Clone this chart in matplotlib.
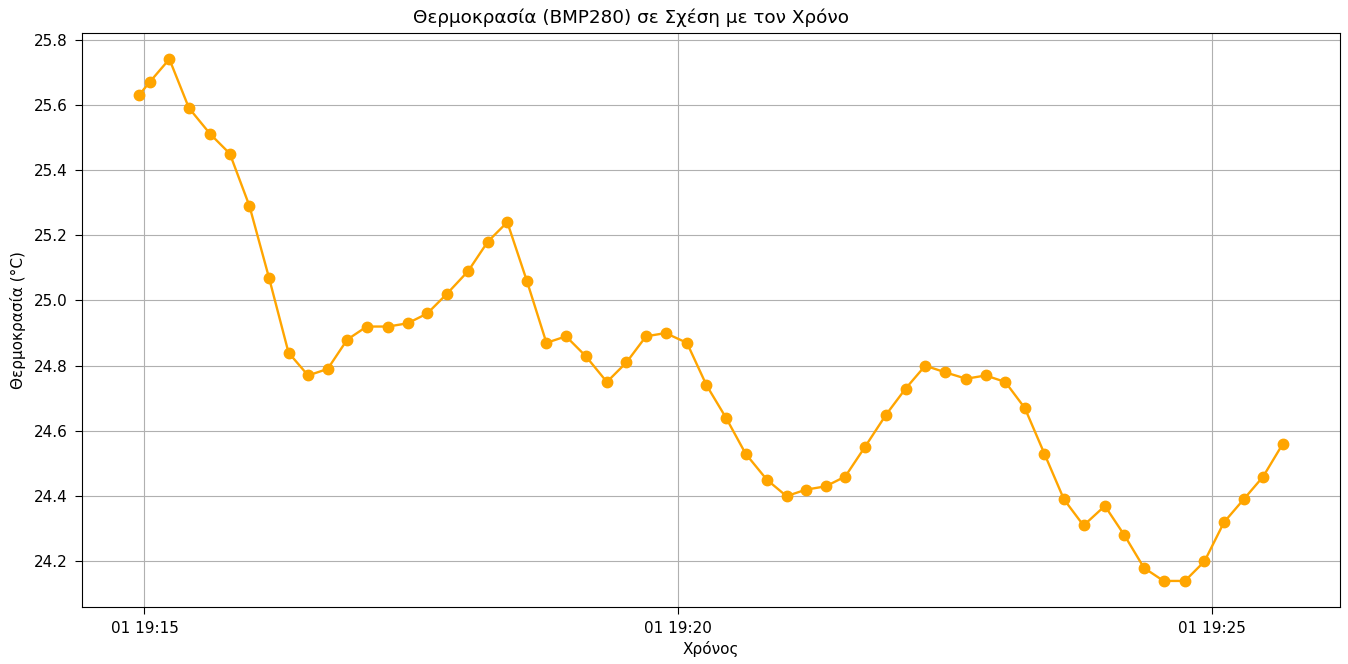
import matplotlib
matplotlib.use("Agg")
import matplotlib.pyplot as plt
import matplotlib.dates as mdates
import pandas as pd

times = [
    "19:14:57", "19:15:03", "19:15:14", "19:15:25", "19:15:37", "19:15:48", "19:15:59",
    "19:16:10", "19:16:21", "19:16:32", "19:16:43", "19:16:54", "19:17:05", "19:17:17",
    "19:17:28", "19:17:39", "19:17:50", "19:18:02", "19:18:13", "19:18:24", "19:18:35",
    "19:18:46", "19:18:57", "19:19:08", "19:19:20", "19:19:31", "19:19:42", "19:19:53",
    "19:20:05", "19:20:16", "19:20:27", "19:20:38", "19:20:50", "19:21:01", "19:21:12",
    "19:21:23", "19:21:34", "19:21:45", "19:21:57", "19:22:08", "19:22:19", "19:22:30",
    "19:22:42", "19:22:53", "19:23:04", "19:23:15", "19:23:26", "19:23:37", "19:23:48",
    "19:24:00", "19:24:11", "19:24:22", "19:24:33", "19:24:45", "19:24:56", "19:25:07",
    "19:25:18", "19:25:29", "19:25:40",
]
temperature = [
    25.63, 25.67, 25.74, 25.59, 25.51, 25.45, 25.29,
    25.07, 24.84, 24.77, 24.79, 24.88, 24.92, 24.92,
    24.93, 24.96, 25.02, 25.09, 25.18, 25.24, 25.06,
    24.87, 24.89, 24.83, 24.75, 24.81, 24.89, 24.90,
    24.87, 24.74, 24.64, 24.53, 24.45, 24.40, 24.42,
    24.43, 24.46, 24.55, 24.65, 24.73, 24.80, 24.78,
    24.76, 24.77, 24.75, 24.67, 24.53, 24.39, 24.31,
    24.37, 24.28, 24.18, 24.14, 24.14, 24.20, 24.32,
    24.39, 24.46, 24.56,
]
date_str = "2024-10-01"
title = "Θερμοκρασία (BMP280) σε Σχέση με τον Χρόνο"
xlabel = "Χρόνος"
ylabel = "Θερμοκρασία (°C)"

plt.rcParams["font.size"] = 11

dt = pd.to_datetime([f"{date_str} {t}" for t in times])

fig = plt.figure(figsize=(13.48, 6.64), dpi=100)
ax = fig.add_subplot(111)
fig.subplots_adjust(left=0.0608, right=0.994, top=0.9503, bottom=0.0858)

ax.plot(dt, temperature, color="orange", marker="o", markersize=7.5, linewidth=1.7)
ax.xaxis.set_major_locator(mdates.MinuteLocator(byminute=[15, 20, 25]))
ax.xaxis.set_major_formatter(mdates.DateFormatter("%d %H:%M"))
ax.tick_params(length=5, pad=5)
ax.grid(True)
ax.set_xlabel(xlabel, labelpad=4)
ax.set_ylabel(ylabel, labelpad=6)
t = ax.set_title(title, loc="left", fontsize=13.2, pad=7)
t.set_x(0.2631)

fig.savefig("out.png", dpi=100)
